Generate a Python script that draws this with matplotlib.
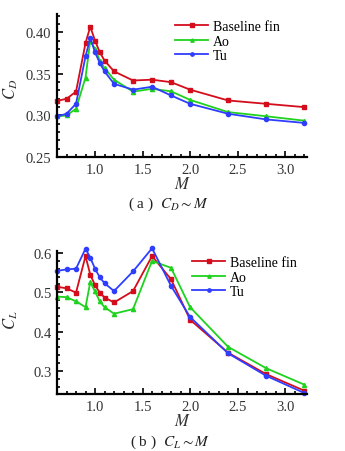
import matplotlib
matplotlib.use('Agg')
import matplotlib.pyplot as plt
from matplotlib.ticker import MultipleLocator, FormatStrFormatter

plt.rcParams['font.family'] = ['Liberation Serif', 'DejaVu Serif']
plt.rcParams['mathtext.fontset'] = 'stix'

# Mach numbers
mach = [0.6, 0.7, 0.8, 0.9, 0.95, 1.0, 1.05, 1.1, 1.2, 1.4, 1.6, 1.8, 2.0, 2.4, 2.8, 3.2]

# drag coefficient
cd_base = [0.3175, 0.320, 0.3286, 0.387, 0.4067, 0.390, 0.376, 0.366, 0.353, 0.342, 0.343, 0.340, 0.331, 0.318, 0.314, 0.310]
cd_ao = [0.2988, 0.300, 0.308, 0.3456, 0.390, 0.380, 0.366, 0.357, 0.343, 0.3286, 0.332, 0.329, 0.3187, 0.304, 0.299, 0.2937]
cd_tu = [0.2988, 0.302, 0.314, 0.371, 0.393, 0.376, 0.363, 0.353, 0.338, 0.331, 0.3345, 0.324, 0.314, 0.302, 0.2952, 0.291]

# lift coefficient
cl_base = [0.514, 0.510, 0.499, 0.592, 0.545, 0.518, 0.499, 0.4866, 0.474, 0.503, 0.592, 0.533, 0.430, 0.346, 0.2916, 0.2496]
cl_ao = [0.489, 0.4874, 0.477, 0.462, 0.526, 0.502, 0.4765, 0.462, 0.4454, 0.457, 0.580, 0.562, 0.462, 0.361, 0.3067, 0.265]
cl_tu = [0.5546, 0.558, 0.560, 0.611, 0.588, 0.560, 0.538, 0.523, 0.503, 0.553, 0.612, 0.516, 0.437, 0.3445, 0.2874, 0.2437]

labels = ['Baseline fin', 'Ao', 'Tu']
colors = ['#d40d1c', '#1ed21e', '#2f3dff']
markers = ['s', '^', 'o']

W, H = 345, 452
fig = plt.figure(figsize=(W / 100, H / 100), dpi=100)


def make_axes(left, top, right, bottom):
    return fig.add_axes([left / W, 1 - bottom / H, (right - left) / W, (bottom - top) / H])


def style_axes(ax, ylim, ymajor, yminor, yfmt):
    ax.set_xlim(0.6, 3.23)
    ax.set_ylim(*ylim)
    ax.xaxis.set_major_locator(MultipleLocator(0.5))
    ax.xaxis.set_minor_locator(MultipleLocator(0.1))
    ax.xaxis.set_major_formatter(FormatStrFormatter('%.1f'))
    ax.yaxis.set_major_locator(MultipleLocator(ymajor))
    ax.yaxis.set_minor_locator(MultipleLocator(yminor))
    ax.yaxis.set_major_formatter(FormatStrFormatter(yfmt))
    for s in ['top', 'right']:
        ax.spines[s].set_visible(False)
    for s in ['left', 'bottom']:
        ax.spines[s].set_linewidth(1.6)
    ax.tick_params(which='both', direction='in', width=1.2, labelsize=10.5, pad=4,
                   labelcolor='#333333')
    ax.tick_params(which='major', length=4)
    ax.tick_params(which='minor', length=2.5)
    ax.set_xlabel('$M$', fontsize=12, labelpad=0, color='#333333')


def draw(ax, series, anchor):
    for ys, lab, c, m in zip(series, labels, colors, markers):
        ax.plot(mach, ys, color=c, marker=m, markersize=3, linewidth=1.3,
                label=lab, clip_on=False)
    ax.legend(loc='upper left', frameon=False, fontsize=10, handlelength=2.4,
              handletextpad=0.35, labelspacing=0.12, borderaxespad=0,
              borderpad=0, markerscale=0.8,
              bbox_to_anchor=(anchor[0] / W, 1 - anchor[1] / H),
              bbox_transform=fig.transFigure)


ax1 = make_axes(57, 15, 307, 158)
draw(ax1, [cd_base, cd_ao, cd_tu], (175, 21))
style_axes(ax1, (0.25, 0.422), 0.05, 0.01, '%.2f')
ax1.set_ylabel('$C_D$', fontsize=12, color='#333333')
ax1.yaxis.set_label_coords((20 - 57) / 250, 0.48)

ax2 = make_axes(57, 252, 307, 395)
draw(ax2, [cl_base, cl_ao, cl_tu], (192, 257))
style_axes(ax2, (0.241, 0.605), 0.1, 0.02, '%.1f')
ax2.set_ylabel('$C_L$', fontsize=12, color='#333333')
ax2.yaxis.set_label_coords((20 - 57) / 250, 0.52)

fig.text(168 / W, 1 - 204 / H, '( a )  $C_D \\sim M$', ha='center', va='center',
         fontsize=11, color='#222222')
fig.text(170 / W, 1 - 442 / H, '( b )  $C_L \\sim M$', ha='center', va='center',
         fontsize=11, color='#222222')

fig.savefig('out.png', dpi=100)
